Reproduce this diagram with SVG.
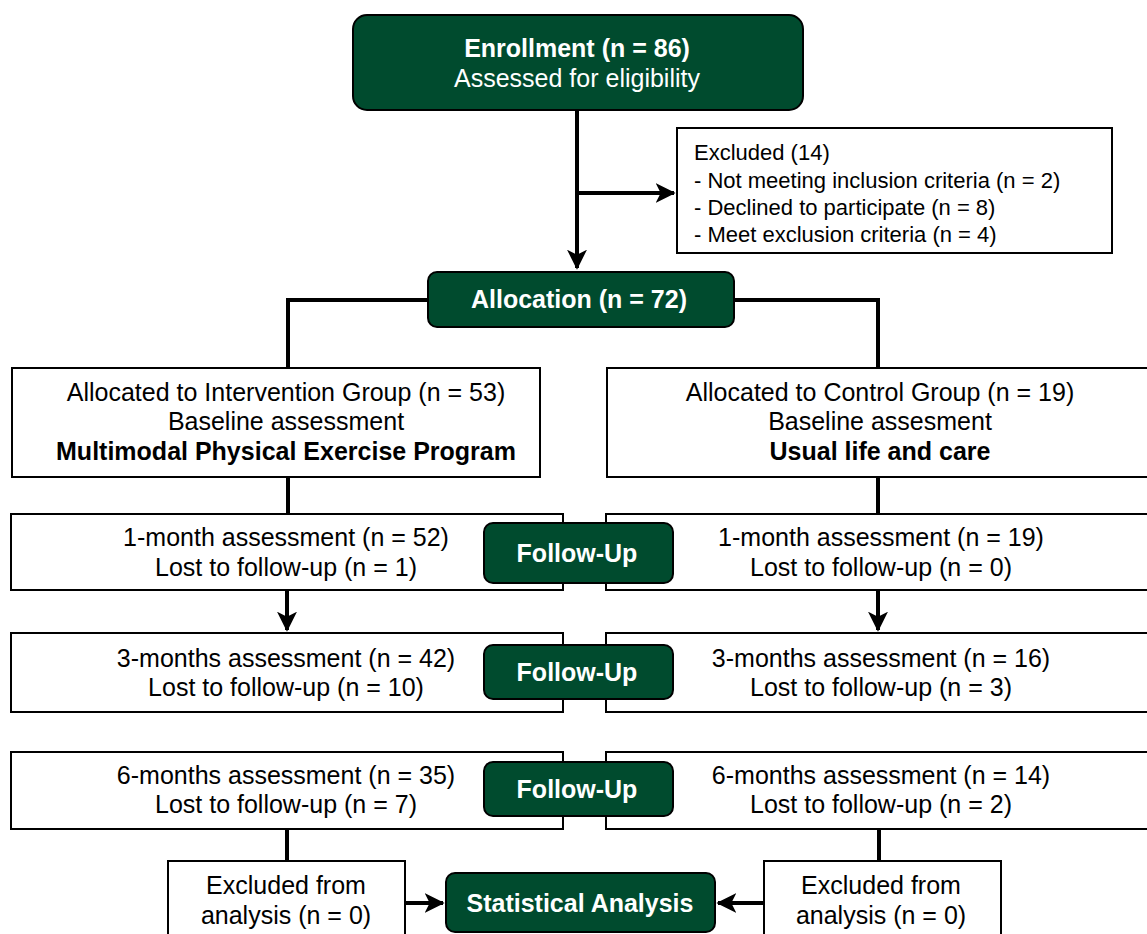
<svg xmlns="http://www.w3.org/2000/svg" width="1147" height="934" viewBox="0 0 1147 934">
<style>
.g{fill:#004B2E;stroke:#000;stroke-width:2}
.w{fill:#fff;stroke:#000;stroke-width:2}
.t{font-family:"Liberation Sans",Arial,sans-serif;font-size:25px;fill:#000;text-anchor:middle}
.b{font-weight:bold}
.wt{fill:#fff}
.l{text-anchor:start;font-size:22px}
.c{fill:none;stroke:#000;stroke-width:4}
</style>
<defs>
<marker id="ah" viewBox="0 0 12 12" refX="11" refY="6" markerWidth="5" markerHeight="5" markerUnits="strokeWidth" orient="auto">
<path d="M0,0 L12,6 L0,12 L3,6 Z" fill="#000"/>
</marker>
</defs>
<g id="connectors">
<path class="c" d="M577,110 V268" marker-end="url(#ah)"/>
<path class="c" d="M579,193 H674" marker-end="url(#ah)"/>
<path class="c" d="M428,300 H288 V368"/>
<path class="c" d="M734,300 H878 V368"/>
<path class="c" d="M288,477 V514"/>
<path class="c" d="M878,477 V514"/>
<path class="c" d="M287,590 V630" marker-end="url(#ah)"/>
<path class="c" d="M878,590 V630" marker-end="url(#ah)"/>
<path class="c" d="M287,829 V861"/>
<path class="c" d="M879,829 V861"/>
<path class="c" d="M405,903 H443" marker-end="url(#ah)"/>
<path class="c" d="M764,903 H718" marker-end="url(#ah)"/>
</g>
<g id="enrollment">
<rect class="g" x="353" y="15" width="450" height="95" rx="14"/>
<text class="t b wt" x="577" y="57" font-size="25.5">Enrollment (n = 86)</text>
<text class="t wt" x="577" y="87" font-size="25.5">Assessed for eligibility</text>
</g>
<g id="excluded">
<rect class="w" x="677" y="128" width="435" height="125"/>
<text class="t l" x="694" y="160">Excluded (14)</text>
<text class="t l" x="694" y="188">- Not meeting inclusion criteria (n = 2)</text>
<text class="t l" x="694" y="215">- Declined to participate (n = 8)</text>
<text class="t l" x="694" y="242">- Meet exclusion criteria (n = 4)</text>
</g>
<g id="allocation">
<rect class="g" x="428" y="272" width="306" height="55" rx="9"/>
<text class="t b wt" x="579" y="308">Allocation (n = 72)</text>
</g>
<g id="intervention">
<rect class="w" x="12" y="368" width="528" height="109"/>
<text class="t" x="286" y="401">Allocated to Intervention Group (n = 53)</text>
<text class="t" x="286" y="430">Baseline assessment</text>
<text class="t b" x="286" y="460">Multimodal Physical Exercise Program</text>
</g>
<g id="control">
<rect class="w" x="607" y="368" width="545" height="109"/>
<text class="t" x="880" y="401">Allocated to Control Group (n = 19)</text>
<text class="t" x="880" y="430">Baseline assesment</text>
<text class="t b" x="880" y="460">Usual life and care</text>
</g>
<g id="m1-left">
<rect class="w" x="11" y="514" width="552" height="76"/>
<text class="t" x="286" y="546">1-month assessment (n = 52)</text>
<text class="t" x="286" y="576">Lost to follow-up (n = 1)</text>
</g>
<g id="m1-right">
<rect class="w" x="606" y="514" width="546" height="76"/>
<text class="t" x="881" y="546">1-month assessment (n = 19)</text>
<text class="t" x="881" y="576">Lost to follow-up (n = 0)</text>
</g>
<g id="fu1">
<rect class="g" x="484" y="523" width="189" height="60" rx="9"/>
<text class="t b wt" x="577" y="562">Follow-Up</text>
</g>
<g id="m3-left">
<rect class="w" x="11" y="633" width="552" height="79"/>
<text class="t" x="286" y="667">3-months assessment (n = 42)</text>
<text class="t" x="286" y="696">Lost to follow-up (n = 10)</text>
</g>
<g id="m3-right">
<rect class="w" x="606" y="633" width="546" height="79"/>
<text class="t" x="881" y="667">3-months assessment (n = 16)</text>
<text class="t" x="881" y="696">Lost to follow-up (n = 3)</text>
</g>
<g id="fu3">
<rect class="g" x="484" y="645" width="189" height="54" rx="9"/>
<text class="t b wt" x="577" y="681">Follow-Up</text>
</g>
<g id="m6-left">
<rect class="w" x="11" y="752" width="552" height="77"/>
<text class="t" x="286" y="784">6-months assessment (n = 35)</text>
<text class="t" x="286" y="813">Lost to follow-up (n = 7)</text>
</g>
<g id="m6-right">
<rect class="w" x="606" y="752" width="546" height="77"/>
<text class="t" x="881" y="784">6-months assessment (n = 14)</text>
<text class="t" x="881" y="813">Lost to follow-up (n = 2)</text>
</g>
<g id="fu6">
<rect class="g" x="484" y="762" width="189" height="54" rx="9"/>
<text class="t b wt" x="577" y="798">Follow-Up</text>
</g>
<g id="excl-left">
<rect class="w" x="168" y="861" width="237" height="80"/>
<text class="t" x="286" y="894">Excluded from</text>
<text class="t" x="286" y="924">analysis (n = 0)</text>
</g>
<g id="excl-right">
<rect class="w" x="764" y="861" width="237" height="80"/>
<text class="t" x="881" y="894">Excluded from</text>
<text class="t" x="881" y="924">analysis (n = 0)</text>
</g>
<g id="stats">
<rect class="g" x="446" y="873" width="269" height="59" rx="9"/>
<text class="t b wt" x="580" y="912">Statistical Analysis</text>
</g>
</svg>
